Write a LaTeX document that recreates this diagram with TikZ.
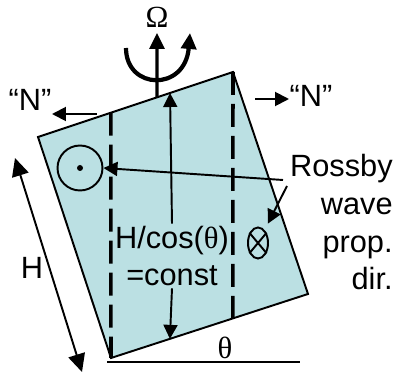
\documentclass[tikz,border=0pt]{standalone}
\usepackage{fontspec}
\setmainfont{Liberation Sans}
\newfontfamily\grk{Liberation Serif}
\usetikzlibrary{arrows.meta,calc,shapes.geometric}
\definecolor{water}{HTML}{BBE0E3}

\begin{document}
\begin{tikzpicture}[x=0.02cm, y=-0.02cm, font=\fontsize{17.5}{21.5}\selectfont,
  wall/.style={line width=1.1pt, fill=water},
  cut/.style={line width=2pt, dash pattern=on 0.46cm off 0.18cm},
  tip/.style={line width=1.1pt, -{Triangle[length=0.28cm,width=0.28cm]}},
  tips/.style={line width=1.1pt, {Triangle[length=0.36cm,width=0.34cm]}-{Triangle[length=0.36cm,width=0.34cm]}}]
  \useasboundingbox (0,0) rectangle (396,378);
  \coordinate (tl) at (38,137);
  \coordinate (tr) at (233,72);
  \coordinate (br) at (308,294);
  \coordinate (bl) at (111,358);
  \draw[wall] (tl) -- (tr) -- (br) -- (bl) -- cycle;
  \draw[cut] ($(tl)!0.374!(tr)$) -- (bl);
  \draw[cut] (tr) -- ($(bl)!0.619!(br)$);

  \coordinate (ax) at ($(tl)!0.610!(tr)$);
  \coordinate (axtop) at (157,33);
  \draw[line width=1.8pt, -{Triangle[length=0.32cm,width=0.3cm]}] (ax) -- (axtop);
  \node (omega) at (157,17) {\grk Ω};
  \draw[line width=2.4pt, -{Triangle[length=0.32cm,width=0.3cm]}] (126,48) .. controls (126,90) and (185,92) .. (190,33);

  \coordinate (nls) at (97,114);
  \coordinate (nle) at (52,114);
  \draw[tip] (nls) -- (nle);
  \node (nleft) at (30,100) {“N”};
  \coordinate (nrs) at (255,99);
  \coordinate (nre) at (289,99);
  \draw[tip] (nrs) -- (nre);
  \node (nright) at (311,96) {“N”};

  \node[align=center, inner sep=1pt] (hcos) at (172,256) {H/cos({\grk θ})\\=const};
  \coordinate (ctop) at ($(tl)!0.677!(tr)$);
  \coordinate (cbot) at ($(bl)!0.299!(br)$);
  \draw[tip] (hcos.north) -- (ctop);
  \draw[tip] (hcos.south) -- (cbot);

  \node[circle, draw, line width=1.1pt, minimum size=0.9cm, inner sep=0pt] (vort) at (80,168) {};
  \fill (vort.center) circle (3);
  \node[ellipse, draw, line width=1.1pt, minimum width=0.4cm, minimum height=0.62cm, inner sep=0pt] (otimes) at (258,243) {};
  \draw[line width=1.1pt] (otimes.50) -- (otimes.230);
  \draw[line width=1.1pt] (otimes.130) -- (otimes.310);

  \node[align=right, anchor=north east, inner sep=0pt] (ross) at (393,154) {Rossby\\wave\\prop.\\dir.};
  \coordinate (rs1) at (283,180);
  \coordinate (rs2) at (287,186);
  \draw[tip] (rs1) -- (vort.east);
  \draw[tip, shorten >=4pt] (rs2) -- (otimes);

  \coordinate (hu) at (15,158);
  \coordinate (hd) at (82,372);
  \draw[tips] (hu) -- (hd);
  \node (hlab) at (32,268) {H};

  \coordinate (gl) at (107,362);
  \coordinate (gr) at (300,362);
  \draw[line width=1.1pt] (gl) -- (gr);
  \node (theta) at (225,348) {\grk θ};
\end{tikzpicture}
\end{document}
